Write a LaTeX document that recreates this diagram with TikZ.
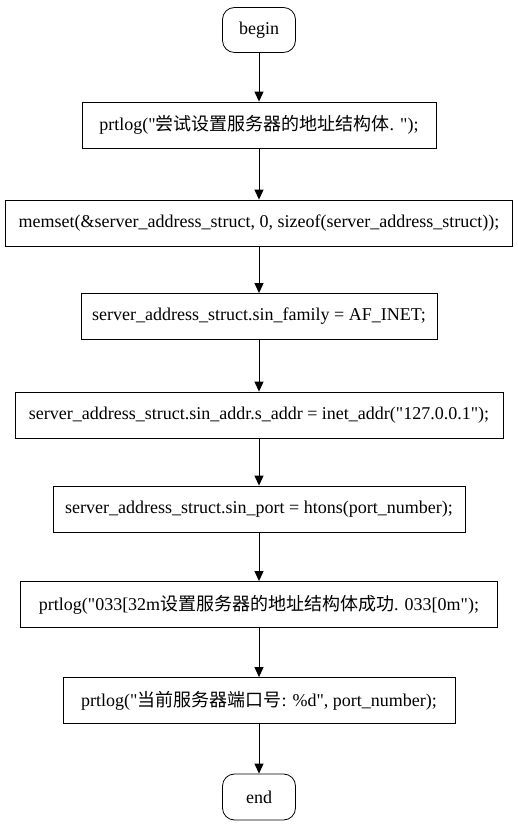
\documentclass[tikz,border=0pt]{standalone}
\usepackage{fontspec}
\setmainfont{Liberation Serif}
\newfontfamily\cjk{Noto Sans CJK SC}
\usetikzlibrary{arrows.meta}
\newcommand{\dq}{\textquotedbl}

\tikzset{
  stepbox/.style={draw, rectangle, line width=0.8pt, minimum height=46pt, inner xsep=4pt, font=\fontsize{18pt}{20pt}\selectfont},
  termbox/.style={draw, rectangle, rounded corners=12pt, line width=0.8pt, minimum height=45pt, minimum width=73pt, font=\fontsize{18pt}{20pt}\selectfont},
  flow/.style={-{Triangle[length=10pt,width=9pt]}, line width=0.9pt},
}

\begin{document}
\begin{tikzpicture}[x=1pt,y=1pt]
  \useasboundingbox (0,0) rectangle (518,827);
  % nodes, top to bottom
  \node[termbox] (begin) at (259,797) {begin};
  \node[stepbox, minimum width=354pt] (prtlogtry) at (259,702) {prtlog(\dq{\cjk 尝试设置服务器的地址结构体}. \dq);};
  \node[stepbox, minimum width=507pt] (memset) at (259,604) {memset(\&server\_address\_struct, 0, sizeof(server\_address\_struct));};
  \node[stepbox, minimum width=356pt] (family) at (259,510.5) {server\_address\_struct.sin\_family = AF\_INET;};
  \node[stepbox, minimum width=488pt] (addr) at (259,412) {server\_address\_struct.sin\_addr.s\_addr = inet\_addr(\dq 127.0.0.1\dq);};
  \node[stepbox, minimum width=412pt] (port) at (259,318) {server\_address\_struct.sin\_port = htons(port\_number);};
  \node[stepbox, minimum width=477pt] (prtlogok) at (259,222.5) {prtlog(\dq 033[32m{\cjk 设置服务器的地址结构体成功}. 033[0m\dq);};
  \node[stepbox, minimum width=392pt] (prtlogport) at (259,126.5) {prtlog(\dq{\cjk 当前服务器端口号}: \%d\dq, port\_number);};
  \node[termbox, minimum height=46pt] (finish) at (259,30) {end};

  % connectors
  \draw[flow] (begin) -- (prtlogtry);
  \draw[flow] (prtlogtry) -- (memset);
  \draw[flow] (memset) -- (family);
  \draw[flow] (family) -- (addr);
  \draw[flow] (addr) -- (port);
  \draw[flow] (port) -- (prtlogok);
  \draw[flow] (prtlogok) -- (prtlogport);
  \draw[flow] (prtlogport) -- (finish);
\end{tikzpicture}
\end{document}
